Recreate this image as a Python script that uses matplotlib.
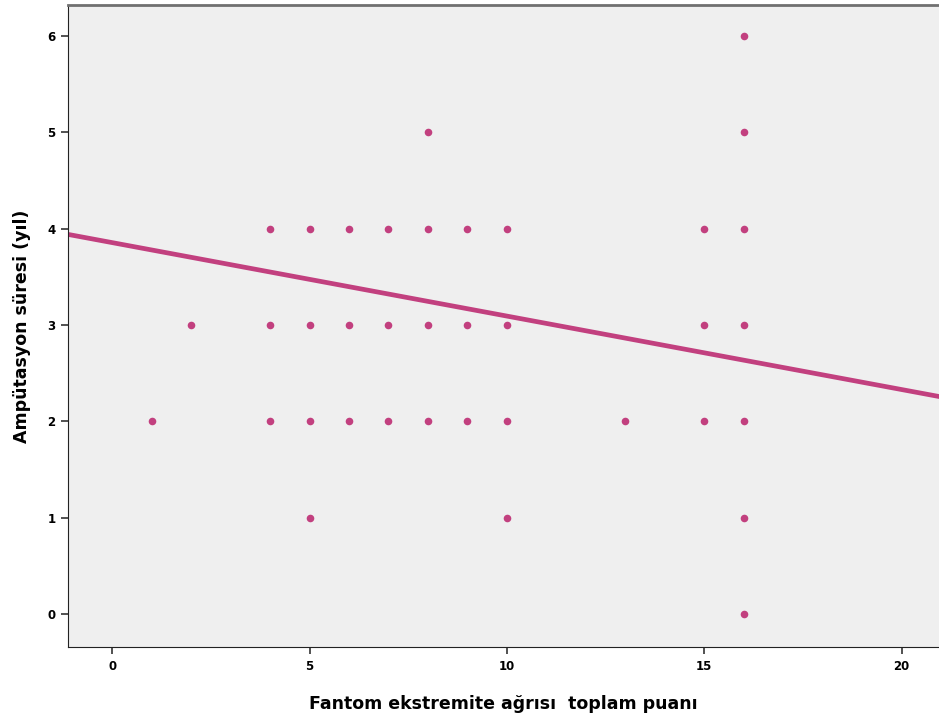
import numpy as np
import matplotlib.pyplot as plt

# Fantom ekstremite agrisi toplam puani vs Amputasyon suresi (yil)
pain_score = [16,
              8, 16,
              4, 5, 6, 7, 8, 9, 10, 15, 16,
              2, 4, 5, 6, 7, 8, 9, 10, 15, 16,
              1, 4, 5, 6, 7, 8, 9, 10, 13, 15, 16,
              5, 10, 16,
              16]
amp_years = [6,
             5, 5,
             4, 4, 4, 4, 4, 4, 4, 4, 4,
             3, 3, 3, 3, 3, 3, 3, 3, 3, 3,
             2, 2, 2, 2, 2, 2, 2, 2, 2, 2, 2,
             1, 1, 1,
             0]

# fit line
fit_intercept = 3.855
fit_slope = -0.0762

color = '#c2407f'

fig = plt.figure(figsize=(9.39, 7.19), dpi=100)
ax = fig.add_axes([68/939, 1 - 647/719, 871/939, 642/719])
ax.set_facecolor('#efefef')

ax.scatter(pain_score, amp_years, s=30, color=color, marker='o', linewidths=0, zorder=3)

xlim = (-1.12, 20.95)
xs = np.array(xlim)
ax.plot(xs, fit_intercept + fit_slope * xs, color=color, linewidth=3.4, zorder=2)

ax.set_xlim(*xlim)
ax.set_ylim(-0.34, 6.32)
ax.set_xticks([0, 5, 10, 15, 20])
ax.set_yticks([0, 1, 2, 3, 4, 5, 6])

for lab in ax.get_xticklabels() + ax.get_yticklabels():
    lab.set_fontweight('bold')
    lab.set_fontsize(8.5)
ax.tick_params(direction='out', length=5, width=1.2, color='#333333', pad=4)

ax.spines['right'].set_visible(False)
ax.spines['top'].set_color('#707070')
ax.spines['top'].set_linewidth(2)
ax.spines['left'].set_color('#222222')
ax.spines['bottom'].set_color('#222222')

ax.set_xlabel('Fantom ekstremite ağrısı  toplam puanı', fontsize=12.5, fontweight='bold', labelpad=16)
ax.set_ylabel('Ampütasyon süresi (yıl)', fontsize=12.5, fontweight='bold', labelpad=12)

fig.savefig('out.png', dpi=100)
